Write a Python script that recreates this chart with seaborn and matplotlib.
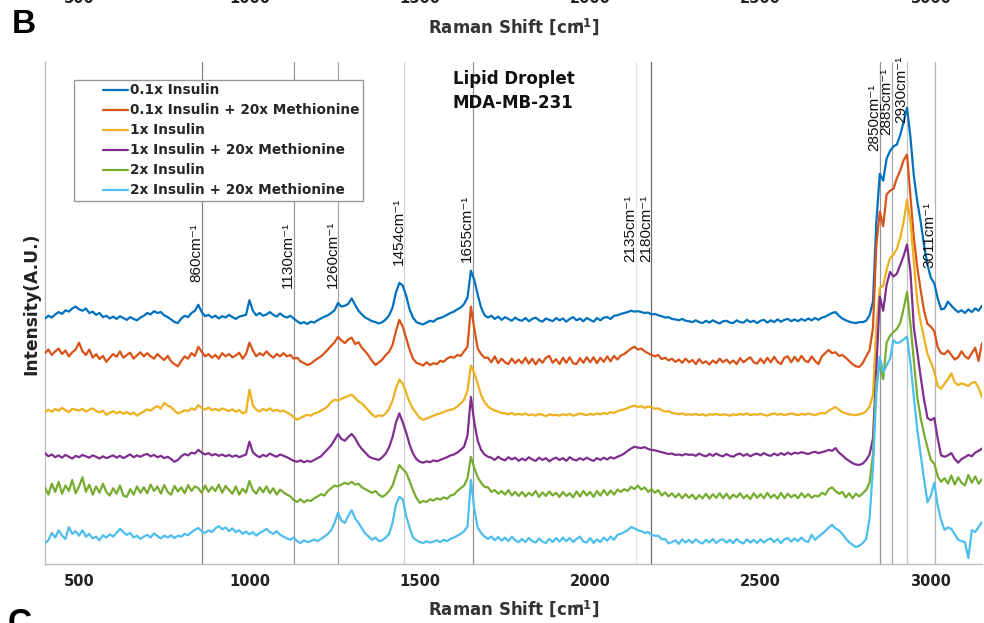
import numpy as np
import pandas as pd
import matplotlib
matplotlib.use("Agg")
import matplotlib.pyplot as plt
from matplotlib.lines import Line2D
from matplotlib.legend_handler import HandlerLine2D
from matplotlib.transforms import blended_transform_factory, offset_copy
import seaborn as sns

# ---------------------------------------------------------------- data
WAVENUMBER = list(range(400, 3151, 10))

INS_01 = [
    5.38, 5.44, 5.40, 5.47, 5.52, 5.48, 5.56, 5.53, 5.60, 5.64,
    5.58, 5.55, 5.60, 5.50, 5.53, 5.46, 5.50, 5.41, 5.44, 5.38,
    5.42, 5.37, 5.43, 5.39, 5.35, 5.41, 5.37, 5.34, 5.40, 5.44,
    5.50, 5.47, 5.54, 5.50, 5.52, 5.45, 5.41, 5.36, 5.30, 5.28,
    5.38, 5.44, 5.41, 5.50, 5.55, 5.68, 5.52, 5.43, 5.46, 5.40,
    5.44, 5.38, 5.43, 5.40, 5.46, 5.41, 5.37, 5.42, 5.44, 5.46,
    5.78, 5.55, 5.45, 5.50, 5.44, 5.47, 5.52, 5.46, 5.42, 5.49,
    5.43, 5.40, 5.44, 5.38, 5.32, 5.27, 5.30, 5.26, 5.31, 5.29,
    5.34, 5.38, 5.42, 5.45, 5.50, 5.56, 5.72, 5.64, 5.66, 5.70,
    5.82, 5.68, 5.55, 5.47, 5.40, 5.36, 5.32, 5.30, 5.27, 5.30,
    5.36, 5.45, 5.62, 5.95, 6.16, 6.10, 5.88, 5.58, 5.40, 5.30,
    5.27, 5.25, 5.29, 5.33, 5.31, 5.37, 5.39, 5.42, 5.46, 5.50,
    5.53, 5.58, 5.62, 5.70, 5.84, 6.43, 6.22, 5.90, 5.62, 5.45,
    5.40, 5.44, 5.37, 5.42, 5.35, 5.41, 5.37, 5.33, 5.40, 5.35,
    5.33, 5.39, 5.32, 5.37, 5.40, 5.34, 5.31, 5.38, 5.35, 5.32,
    5.39, 5.34, 5.38, 5.31, 5.37, 5.41, 5.34, 5.38, 5.32, 5.39,
    5.35, 5.31, 5.39, 5.34, 5.40, 5.41, 5.37, 5.44, 5.45, 5.48,
    5.50, 5.52, 5.55, 5.53, 5.54, 5.52, 5.50, 5.51, 5.47, 5.48,
    5.45, 5.43, 5.40, 5.41, 5.37, 5.36, 5.34, 5.37, 5.33, 5.32,
    5.30, 5.34, 5.30, 5.28, 5.33, 5.29, 5.34, 5.30, 5.27, 5.32,
    5.33, 5.29, 5.28, 5.34, 5.30, 5.29, 5.35, 5.30, 5.33, 5.28,
    5.33, 5.35, 5.29, 5.34, 5.30, 5.36, 5.31, 5.35, 5.37, 5.32,
    5.36, 5.32, 5.37, 5.33, 5.38, 5.34, 5.39, 5.35, 5.40, 5.42,
    5.46, 5.50, 5.52, 5.44, 5.38, 5.34, 5.31, 5.29, 5.28, 5.30,
    5.30, 5.33, 5.45, 5.75, 7.50, 8.55, 8.40, 8.88, 9.05, 9.15,
    9.19, 9.40, 9.69, 10.0, 9.35, 8.50, 7.95, 7.50, 6.98, 6.55,
    6.27, 6.15, 5.82, 5.58, 5.60, 5.75, 5.66, 5.58, 5.52, 5.56,
    5.50, 5.58, 5.52, 5.60, 5.55, 5.66,
]

INS_01_MET = [
    4.62, 4.70, 4.58, 4.66, 4.72, 4.60, 4.68, 4.55, 4.64, 4.70,
    4.85, 4.66, 4.58, 4.70, 4.52, 4.60, 4.49, 4.56, 4.43, 4.52,
    4.60, 4.54, 4.66, 4.52, 4.58, 4.63, 4.50, 4.57, 4.64, 4.55,
    4.62, 4.55, 4.50, 4.60, 4.53, 4.47, 4.56, 4.44, 4.38, 4.33,
    4.45, 4.55, 4.50, 4.62, 4.56, 4.76, 4.65, 4.55, 4.60, 4.52,
    4.58, 4.50, 4.62, 4.55, 4.60, 4.53, 4.57, 4.63, 4.50, 4.60,
    4.85, 4.68, 4.55, 4.62, 4.57, 4.66, 4.58, 4.52, 4.60, 4.55,
    4.62, 4.55, 4.58, 4.50, 4.52, 4.44, 4.40, 4.36, 4.39, 4.45,
    4.50, 4.55, 4.62, 4.70, 4.78, 4.86, 4.98, 4.90, 4.84, 4.92,
    4.96, 4.82, 4.86, 4.74, 4.66, 4.56, 4.45, 4.36, 4.42, 4.48,
    4.58, 4.65, 4.80, 5.10, 5.35, 5.20, 4.95, 4.70, 4.50, 4.41,
    4.38, 4.35, 4.42, 4.36, 4.40, 4.38, 4.45, 4.43, 4.50, 4.54,
    4.52, 4.58, 4.56, 4.66, 4.76, 5.64, 5.15, 4.72, 4.60, 4.52,
    4.52, 4.42, 4.55, 4.40, 4.50, 4.42, 4.38, 4.50, 4.40, 4.48,
    4.40, 4.52, 4.39, 4.50, 4.37, 4.49, 4.41, 4.52, 4.56, 4.41,
    4.49, 4.38, 4.52, 4.41, 4.53, 4.40, 4.38, 4.51, 4.41, 4.53,
    4.42, 4.53, 4.40, 4.52, 4.43, 4.55, 4.44, 4.56, 4.48, 4.57,
    4.60, 4.66, 4.72, 4.76, 4.70, 4.72, 4.66, 4.62, 4.58, 4.55,
    4.58, 4.49, 4.52, 4.46, 4.50, 4.43, 4.48, 4.41, 4.50, 4.42,
    4.47, 4.38, 4.49, 4.40, 4.44, 4.37, 4.46, 4.40, 4.50, 4.42,
    4.48, 4.40, 4.46, 4.38, 4.51, 4.42, 4.48, 4.53, 4.42, 4.39,
    4.50, 4.40, 4.52, 4.42, 4.54, 4.43, 4.38, 4.52, 4.55, 4.42,
    4.54, 4.44, 4.56, 4.46, 4.42, 4.55, 4.45, 4.38, 4.55, 4.62,
    4.69, 4.62, 4.64, 4.56, 4.58, 4.52, 4.45, 4.38, 4.33, 4.32,
    4.40, 4.55, 4.68, 5.18, 7.00, 7.72, 7.40, 8.10, 8.18, 8.22,
    8.45, 8.62, 8.85, 8.97, 8.05, 7.15, 6.50, 6.00, 5.55, 5.26,
    5.20, 5.10, 4.75, 4.62, 4.60, 4.68, 4.58, 4.48, 4.53, 4.66,
    4.55, 4.50, 4.62, 4.74, 4.45, 4.84,
]

INS_1 = [
    3.33, 3.38, 3.34, 3.40, 3.36, 3.42, 3.37, 3.33, 3.40, 3.38,
    3.36, 3.40, 3.34, 3.38, 3.41, 3.35, 3.32, 3.36, 3.27, 3.31,
    3.35, 3.30, 3.34, 3.29, 3.33, 3.28, 3.32, 3.25, 3.30, 3.34,
    3.39, 3.36, 3.42, 3.46, 3.40, 3.53, 3.47, 3.44, 3.36, 3.30,
    3.33, 3.37, 3.35, 3.41, 3.38, 3.48, 3.42, 3.38, 3.43, 3.37,
    3.40, 3.36, 3.41, 3.38, 3.35, 3.39, 3.34, 3.37, 3.30, 3.33,
    3.82, 3.48, 3.38, 3.34, 3.40, 3.36, 3.41, 3.35, 3.38, 3.34,
    3.36, 3.32, 3.28, 3.22, 3.16, 3.20, 3.24, 3.27, 3.25, 3.30,
    3.32, 3.36, 3.40, 3.46, 3.55, 3.60, 3.58, 3.62, 3.65, 3.68,
    3.71, 3.64, 3.56, 3.52, 3.44, 3.36, 3.28, 3.22, 3.26, 3.24,
    3.30, 3.40, 3.58, 3.85, 4.04, 3.95, 3.75, 3.55, 3.40, 3.30,
    3.20, 3.16, 3.19, 3.22, 3.25, 3.28, 3.30, 3.33, 3.36, 3.38,
    3.40, 3.45, 3.52, 3.60, 3.80, 4.35, 4.18, 3.95, 3.70, 3.55,
    3.45, 3.40, 3.36, 3.34, 3.31, 3.30, 3.28, 3.31, 3.27, 3.29,
    3.27, 3.30, 3.26, 3.28, 3.25, 3.29, 3.27, 3.24, 3.28, 3.26,
    3.27, 3.25, 3.28, 3.26, 3.29, 3.25, 3.27, 3.30, 3.28, 3.26,
    3.29, 3.27, 3.30, 3.28, 3.31, 3.29, 3.33, 3.31, 3.35, 3.37,
    3.39, 3.42, 3.45, 3.47, 3.44, 3.46, 3.42, 3.45, 3.44, 3.40,
    3.41, 3.37, 3.34, 3.35, 3.31, 3.30, 3.28, 3.30, 3.27, 3.28,
    3.27, 3.29, 3.26, 3.28, 3.25, 3.28, 3.27, 3.29, 3.26, 3.28,
    3.27, 3.25, 3.28, 3.26, 3.29, 3.27, 3.30, 3.26, 3.28, 3.27,
    3.29, 3.27, 3.25, 3.28, 3.30, 3.27, 3.29, 3.26, 3.28, 3.30,
    3.28, 3.26, 3.29, 3.27, 3.30, 3.28, 3.26, 3.29, 3.31, 3.30,
    3.36, 3.40, 3.44, 3.38, 3.33, 3.30, 3.28, 3.27, 3.26, 3.28,
    3.30, 3.35, 3.45, 3.70, 5.20, 6.05, 6.10, 6.45, 6.70, 6.78,
    6.90, 7.15, 7.50, 7.98, 7.50, 6.62, 5.75, 5.30, 4.95, 4.60,
    4.42, 4.22, 3.90, 3.84, 3.95, 4.05, 4.18, 3.98, 3.92, 3.96,
    3.93, 3.90, 3.97, 3.99, 3.86, 3.66,
]

INS_1_MET = [
    2.43, 2.36, 2.40, 2.34, 2.38, 2.33, 2.39, 2.35, 2.31, 2.37,
    2.34, 2.39, 2.36, 2.33, 2.38, 2.35, 2.31, 2.36, 2.32, 2.35,
    2.38, 2.33, 2.37, 2.32, 2.36, 2.40, 2.34, 2.38, 2.35, 2.39,
    2.41, 2.36, 2.39, 2.34, 2.37, 2.32, 2.35, 2.30, 2.24, 2.28,
    2.36, 2.41, 2.38, 2.44, 2.42, 2.50, 2.44, 2.40, 2.43, 2.38,
    2.41, 2.37, 2.40, 2.36, 2.39, 2.35, 2.38, 2.34, 2.37, 2.40,
    2.68, 2.45, 2.38, 2.34, 2.39, 2.36, 2.42, 2.38, 2.35, 2.40,
    2.37, 2.34, 2.30, 2.26, 2.24, 2.27, 2.23, 2.26, 2.24, 2.28,
    2.32, 2.36, 2.44, 2.52, 2.60, 2.72, 2.85, 2.74, 2.70, 2.78,
    2.85, 2.76, 2.62, 2.52, 2.44, 2.36, 2.32, 2.30, 2.28, 2.34,
    2.42, 2.56, 2.78, 3.10, 3.30, 3.10, 2.88, 2.62, 2.42, 2.30,
    2.24, 2.22, 2.25, 2.23, 2.27, 2.25, 2.28, 2.31, 2.34, 2.38,
    2.40, 2.44, 2.50, 2.57, 2.82, 3.66, 3.10, 2.70, 2.50, 2.40,
    2.35, 2.33, 2.28, 2.35, 2.30, 2.27, 2.34, 2.29, 2.33, 2.26,
    2.31, 2.27, 2.34, 2.29, 2.26, 2.33, 2.28, 2.32, 2.25, 2.30,
    2.33, 2.28, 2.32, 2.26, 2.34, 2.29, 2.27, 2.32, 2.28, 2.33,
    2.29, 2.26, 2.32, 2.28, 2.33, 2.29, 2.34, 2.31, 2.35, 2.38,
    2.42, 2.48, 2.53, 2.57, 2.55, 2.54, 2.56, 2.52, 2.50, 2.49,
    2.47, 2.45, 2.43, 2.41, 2.42, 2.39, 2.40, 2.38, 2.41, 2.39,
    2.40, 2.37, 2.42, 2.38, 2.36, 2.41, 2.37, 2.42, 2.38, 2.36,
    2.41, 2.37, 2.35, 2.40, 2.42, 2.37, 2.41, 2.36, 2.40, 2.42,
    2.38, 2.43, 2.39, 2.37, 2.42, 2.38, 2.43, 2.39, 2.44, 2.40,
    2.44, 2.42, 2.45, 2.43, 2.41, 2.44, 2.46, 2.43, 2.45, 2.47,
    2.50, 2.48, 2.54, 2.44, 2.38, 2.31, 2.26, 2.21, 2.18, 2.17,
    2.20, 2.28, 2.40, 2.75, 4.30, 5.86, 5.55, 6.12, 6.40, 6.30,
    6.36, 6.55, 6.75, 7.00, 6.40, 5.18, 4.65, 4.10, 3.60, 3.20,
    3.15, 3.20, 2.75, 2.38, 2.35, 2.38, 2.43, 2.30, 2.22, 2.30,
    2.34, 2.39, 2.36, 2.44, 2.48, 2.53,
]

INS_2 = [
    1.67, 1.52, 1.76, 1.58, 1.80, 1.54, 1.72, 1.60, 1.84, 1.55,
    1.70, 1.90, 1.58, 1.74, 1.52, 1.70, 1.56, 1.76, 1.58, 1.50,
    1.66, 1.54, 1.72, 1.50, 1.47, 1.64, 1.52, 1.70, 1.56, 1.68,
    1.55, 1.74, 1.60, 1.70, 1.54, 1.73, 1.58, 1.52, 1.71, 1.59,
    1.68, 1.55, 1.73, 1.60, 1.70, 1.66, 1.56, 1.72, 1.58, 1.69,
    1.60, 1.74, 1.56, 1.71, 1.62, 1.54, 1.70, 1.52, 1.65, 1.56,
    1.82, 1.62, 1.54, 1.68, 1.57, 1.70, 1.55, 1.66, 1.52, 1.63,
    1.57, 1.52, 1.48, 1.40, 1.36, 1.42, 1.35, 1.40, 1.38, 1.44,
    1.48, 1.53, 1.50, 1.60, 1.66, 1.72, 1.70, 1.74, 1.78, 1.75,
    1.80, 1.74, 1.76, 1.68, 1.64, 1.60, 1.56, 1.60, 1.52, 1.47,
    1.52, 1.60, 1.72, 1.95, 2.17, 2.08, 2.00, 1.82, 1.62, 1.45,
    1.34, 1.38, 1.36, 1.42, 1.39, 1.44, 1.41, 1.46, 1.43, 1.50,
    1.52, 1.60, 1.66, 1.72, 1.88, 2.35, 2.10, 1.90, 1.78, 1.69,
    1.68, 1.58, 1.62, 1.54, 1.60, 1.52, 1.62, 1.50, 1.58, 1.49,
    1.58, 1.48, 1.56, 1.50, 1.60, 1.47, 1.57, 1.49, 1.59, 1.50,
    1.56, 1.47, 1.58, 1.49, 1.55, 1.46, 1.59, 1.48, 1.60, 1.50,
    1.58, 1.47, 1.60, 1.50, 1.62, 1.51, 1.61, 1.52, 1.63, 1.58,
    1.64, 1.60, 1.69, 1.64, 1.72, 1.63, 1.68, 1.58, 1.64, 1.56,
    1.62, 1.50, 1.57, 1.48, 1.55, 1.46, 1.54, 1.44, 1.53, 1.45,
    1.52, 1.42, 1.51, 1.44, 1.54, 1.43, 1.53, 1.45, 1.55, 1.44,
    1.54, 1.43, 1.52, 1.46, 1.55, 1.44, 1.51, 1.42, 1.55, 1.45,
    1.53, 1.44, 1.56, 1.45, 1.52, 1.43, 1.56, 1.44, 1.54, 1.46,
    1.52, 1.44, 1.55, 1.46, 1.53, 1.45, 1.50, 1.48, 1.56, 1.52,
    1.64, 1.68, 1.60, 1.54, 1.58, 1.46, 1.55, 1.44, 1.54, 1.48,
    1.55, 1.62, 1.78, 2.40, 4.00, 4.40, 4.05, 4.85, 5.00, 5.08,
    5.15, 5.28, 5.60, 5.96, 5.25, 4.45, 3.66, 3.20, 2.85, 2.55,
    2.28, 2.20, 1.92, 1.80, 1.88, 1.76, 1.94, 1.74, 1.90, 1.78,
    1.72, 1.95, 1.78, 1.92, 1.76, 1.86,
]

INS_2_MET = [
    0.46, 0.52, 0.68, 0.58, 0.74, 0.62, 0.55, 0.81, 0.66, 0.72,
    0.62, 0.74, 0.60, 0.66, 0.56, 0.60, 0.52, 0.63, 0.58, 0.65,
    0.60, 0.68, 0.77, 0.70, 0.64, 0.68, 0.58, 0.62, 0.55, 0.60,
    0.64, 0.58, 0.67, 0.61, 0.56, 0.62, 0.58, 0.63, 0.57, 0.62,
    0.60, 0.66, 0.63, 0.70, 0.75, 0.79, 0.72, 0.68, 0.74, 0.70,
    0.78, 0.83, 0.76, 0.80, 0.72, 0.78, 0.70, 0.74, 0.66, 0.71,
    0.65, 0.70, 0.62, 0.68, 0.72, 0.77, 0.70, 0.66, 0.72, 0.64,
    0.60, 0.56, 0.53, 0.58, 0.50, 0.46, 0.52, 0.48, 0.50, 0.54,
    0.50, 0.55, 0.60, 0.66, 0.74, 0.90, 1.13, 0.95, 0.90, 1.05,
    1.18, 1.00, 0.90, 0.78, 0.67, 0.60, 0.53, 0.58, 0.50, 0.52,
    0.58, 0.66, 0.90, 1.30, 1.47, 1.42, 1.05, 0.80, 0.58, 0.52,
    0.48, 0.46, 0.50, 0.47, 0.49, 0.52, 0.48, 0.53, 0.50, 0.55,
    0.58, 0.62, 0.66, 0.72, 0.82, 1.84, 1.20, 0.80, 0.68, 0.60,
    0.55, 0.60, 0.52, 0.59, 0.51, 0.58, 0.50, 0.60, 0.52, 0.48,
    0.55, 0.48, 0.57, 0.50, 0.47, 0.56, 0.49, 0.46, 0.55, 0.48,
    0.57, 0.49, 0.58, 0.50, 0.57, 0.48, 0.55, 0.60, 0.49, 0.47,
    0.57, 0.46, 0.54, 0.48, 0.58, 0.51, 0.60, 0.53, 0.64, 0.66,
    0.70, 0.74, 0.81, 0.78, 0.74, 0.72, 0.68, 0.70, 0.64, 0.62,
    0.62, 0.54, 0.55, 0.45, 0.48, 0.52, 0.44, 0.54, 0.47, 0.53,
    0.46, 0.54, 0.48, 0.45, 0.53, 0.47, 0.55, 0.46, 0.52, 0.54,
    0.47, 0.53, 0.46, 0.55, 0.48, 0.45, 0.54, 0.47, 0.53, 0.46,
    0.54, 0.47, 0.53, 0.56, 0.48, 0.55, 0.46, 0.54, 0.57, 0.49,
    0.56, 0.50, 0.58, 0.51, 0.48, 0.64, 0.53, 0.60, 0.66, 0.72,
    0.80, 0.86, 0.78, 0.74, 0.66, 0.56, 0.48, 0.42, 0.37, 0.40,
    0.46, 0.55, 1.00, 2.10, 3.75, 4.54, 4.20, 4.35, 4.50, 4.90,
    4.84, 4.86, 4.92, 4.98, 4.41, 3.66, 2.94, 2.40, 1.85, 1.35,
    1.50, 1.78, 1.28, 0.96, 0.75, 0.80, 0.77, 0.65, 0.53, 0.50,
    0.48, 0.13, 0.74, 0.70, 0.81, 0.92,
]

CONDITIONS = [
    "0.1x Insulin",
    "0.1x Insulin + 20x Methionine",
    "1x Insulin",
    "1x Insulin + 20x Methionine",
    "2x Insulin",
    "2x Insulin + 20x Methionine",
]
SPECTRA = [INS_01, INS_01_MET, INS_1, INS_1_MET, INS_2, INS_2_MET]

# assigned Raman bands (cm^-1)
PEAKS = [860, 1130, 1260, 1454, 1655, 2135, 2180, 2850, 2885, 2930, 3011]

XTICKS = [500, 1000, 1500, 2000, 2500, 3000]
YTICKS = [1, 2, 3, 4, 5, 6, 7, 8, 9, 10]

# ---------------------------------------------------------------- style
LINE_COLORS = ["#0072BD", "#D95319", "#EDB120", "#7E2F8E", "#77AC30", "#4DBEEE"]
PEAK_GREYS = ["#858585", "#9a9a9a", "#a5a5a5", "#d2d2d2", "#959595", "#e4e4e4",
              "#6a6a6a", "#959595", "#ababab", "#c2c2c2", "#b5b5b5"]
PEAK_TEXT_Y = [6.18, 6.05, 6.05, 6.56, 6.62, 6.62, 6.62, 9.06, 9.39, 9.67, 6.49]
AXIS_GREY = "#bdbdbd"

sns.set_theme(style="white")
plt.rcParams["font.family"] = ["DejaVu Sans"]
plt.rcParams["font.weight"] = "bold"
plt.rcParams["mathtext.fontset"] = "custom"
plt.rcParams["mathtext.rm"] = "Liberation Sans"
plt.rcParams["mathtext.it"] = "Liberation Sans:italic"
plt.rcParams["mathtext.bf"] = "DejaVu Sans:bold"

W, H = 984, 623
fig = plt.figure(figsize=(W / 100, H / 100), dpi=100)
fig.patch.set_facecolor("white")
ax = fig.add_axes([45 / W, 1 - 564 / H, (982 - 45) / W, (564 - 62) / H])

# long-form table of all spectra
df = pd.DataFrame({
    "shift": np.tile(WAVENUMBER, len(SPECTRA)),
    "intensity": np.concatenate([np.asarray(s, dtype=float) for s in SPECTRA]),
    "condition": np.repeat(CONDITIONS, len(WAVENUMBER)),
})

# band markers behind the spectra
for p, g in zip(PEAKS, PEAK_GREYS):
    ax.axvline(p, color=g, lw=0.9, zorder=1)

sns.lineplot(data=df, x="shift", y="intensity", hue="condition",
             hue_order=CONDITIONS, palette=LINE_COLORS, estimator=None,
             sort=False, linewidth=1.6, legend=False, ax=ax, zorder=3)

ax.set_xlim(400, 3150)
ax.set_ylim(0, 11)
ax.set_xticks(XTICKS)
ax.set_xticklabels([str(t) for t in XTICKS])
ax.set_yticks(YTICKS)
ax.tick_params(axis="x", direction="in", length=8, width=1, color=AXIS_GREY,
               labelsize=10.5, pad=7, labelcolor="#222222")
ax.tick_params(axis="y", direction="in", length=9, width=1, color=AXIS_GREY,
               labelleft=False)
for side in ("top", "right"):
    ax.spines[side].set_visible(False)
for side in ("left", "bottom"):
    ax.spines[side].set_color(AXIS_GREY)
    ax.spines[side].set_linewidth(1.0)
ax.set_facecolor("white")

# band labels, rotated, baseline hugging the left side of each marker
label_tr = offset_copy(ax.transData, fig=fig, x=-1.5, y=0, units="dots")
for p, ty in zip(PEAKS, PEAK_TEXT_Y):
    ax.text(p, ty, f"{p}cm\u207b\u00b9", transform=label_tr,
            rotation=90, rotation_mode="anchor", ha="left", va="baseline",
            fontsize=11, fontweight="normal",
            family=["Liberation Sans", "DejaVu Sans"],
            color="#111111", zorder=4)

xlabel = r"Raman Shift [cm$^{\hspace{-1.0}\mathbf{-1}}$]"
ax.set_xlabel(xlabel, fontsize=12, fontweight="bold", color="#333333")
ax.xaxis.set_label_coords(0.5, (564 - 598) / (564 - 62))
ax.set_ylabel("Intensity(A.U.)", fontsize=12.3, fontweight="bold", color="#222222")
ax.yaxis.set_label_coords((40 - 45) / (982 - 45), (564 - 304) / (564 - 62))

fig.text(453 / W, 1 - 70 / H, "Lipid Droplet\nMDA-MB-231", ha="left", va="top",
         fontsize=12, fontweight="bold", linespacing=1.45, color="#111111")


class RightHalfLine(HandlerLine2D):
    """Legend sample drawn on the right half of the handle box."""

    def get_xdata(self, legend, xdescent, ydescent, width, height, fontsize):
        xd = np.array([-xdescent + 0.5 * width, -xdescent + width])
        return xd, xd


handles = [Line2D([], [], color=c, lw=1.6) for c in LINE_COLORS]
leg = ax.legend(handles, CONDITIONS, loc="upper left",
                bbox_to_anchor=((74 - 45) / (982 - 45), (564 - 80) / (564 - 62)),
                borderaxespad=0, handler_map={Line2D: RightHalfLine()},
                handlelength=3.7, handletextpad=0.2, borderpad=0.25,
                labelspacing=0.44, frameon=True, fancybox=False,
                prop={"weight": "bold", "size": 9.8})
leg.get_frame().set_edgecolor("#9a9a9a")
leg.get_frame().set_linewidth(1.0)
leg.get_frame().set_alpha(1)
leg.set_zorder(5)

# the neighbouring panel's axis peeks in at the top edge
top_tr = blended_transform_factory(ax.transData, fig.transFigure)
for t in XTICKS:
    fig.text(t, 1 + 1.5 / H, str(t), transform=top_tr, ha="center", va="center",
             fontsize=10.5, fontweight="bold", color="#222222")
top_lab = blended_transform_factory(ax.transAxes, fig.transFigure)
fig.text(0.5, 1 - 27 / H, xlabel, transform=top_lab, ha="center", va="center",
         fontsize=12, fontweight="bold", color="#333333")

fig.text(12 / W, 1 - 33 / H, "B", ha="left", va="baseline", fontsize=24,
         fontweight="bold", family="Liberation Sans", color="black")
fig.text(8 / W, 1 - 632 / H, "C", ha="left", va="baseline", fontsize=24,
         fontweight="bold", family="Liberation Sans", color="black")

fig.savefig("out.png", dpi=100, facecolor="white")
